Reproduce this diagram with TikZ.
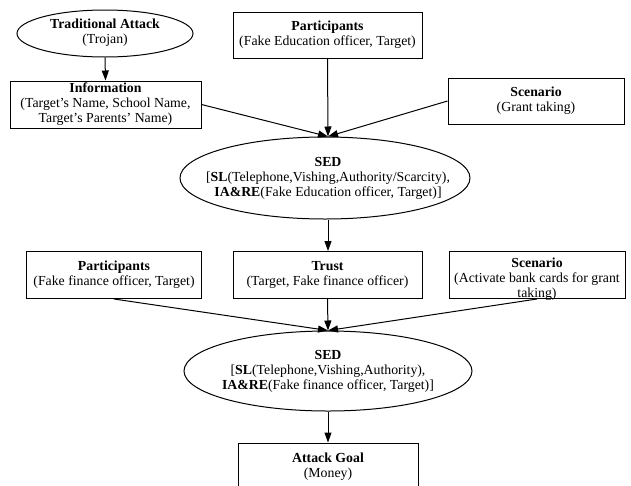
\documentclass[tikz,border=0pt]{standalone}
\usepackage{fontspec}
\setmainfont{Liberation Serif}
\usetikzlibrary{shapes.geometric,arrows.meta}

\tikzset{
  base/.style={draw=black, line width=1pt, align=center, inner sep=0pt,
    font=\fontsize{13.8}{15}\selectfont},
  box/.style={base, rectangle},
  oval/.style={draw=black, line width=1pt, ellipse, inner sep=0pt},
  txt/.style={align=center, inner sep=0pt, font=\fontsize{13.8}{15}\selectfont},
  link/.style={line width=1pt, -{Triangle[length=10pt,width=7pt]}}
}

\begin{document}
\begin{tikzpicture}[x=1pt,y=-1pt]
  \clip (0,0) rectangle (631,485);
  \fill[white] (0,0) rectangle (631,485);

  % first stage
  \node[oval, minimum width=176, minimum height=47] (ta) at (105,33.5) {};
  \node[txt] (tatext) at ([yshift=1]ta.center)
    {\textbf{Traditional Attack}\\(Trojan)};
  \node[box, minimum width=191, minimum height=47] (info) at (105.5,104.5)
    {\textbf{Information}\\(Target's Name, School Name,\\Target's Parents' Name)};
  \node[box, minimum width=189, minimum height=46] (p1) at (327.5,35)
    {\textbf{Participants}\\(Fake Education officer, Target)};
  \node[box, minimum width=176, minimum height=46] (s1) at (536,101)
    {\textbf{Scenario}\\(Grant taking)};
  \node[oval, minimum width=290, minimum height=82] (sed1) at (325,178) {};
  \node[txt] (sed1text) at ([xshift=3]sed1.center)
    {\textbf{SED}\\{}[\textbf{SL}(Telephone,Vishing,Authority/Scarcity),\\\textbf{IA\&RE}(Fake Education officer, Target)]};

  % second stage
  \node[box, minimum width=175, minimum height=47] (p2) at (114,275)
    {\textbf{Participants}\\(Fake finance officer, Target)};
  \node[box, minimum width=189, minimum height=47] (trust) at (327.5,275)
    {\textbf{Trust}\\(Target, Fake finance officer)};
  \node[box, minimum width=176, minimum height=47] (s2) at (537,275) {};
  \node[txt] (s2text) at ([yshift=-4]s2.center)
    {\textbf{Scenario}\\(Activate bank cards for grant\\taking)};
  \node[oval, minimum width=288, minimum height=80] (sed2) at (328,371) {};
  \node[txt] (sed2text) at (sed2.center)
    {\textbf{SED}\\{}[\textbf{SL}(Telephone,Vishing,Authority),\\\textbf{IA\&RE}(Fake finance officer, Target)]};
  \node[box, minimum width=180, minimum height=47] (goal) at (328,466.5)
    {\textbf{Attack Goal}\\(Money)};

  % connectors
  \draw[link] (ta.south) -- (info.north);
  \draw[link] (p1.south) -- ([xshift=3]sed1.north);
  \draw[link] (info.east) -- ([xshift=3]sed1.north);
  \draw[link] (s1.west) -- ([xshift=3]sed1.north);
  \draw[link] ([xshift=3]sed1.south) -- ([xshift=3]sed1.south |- trust.north);
  \draw[link] (p2.south) -- (sed2.north);
  \draw[link] (trust.south) -- (sed2.north);
  \draw[link] (s2.south) -- (sed2.north);
  \draw[link] (sed2.south) -- (goal.north);
\end{tikzpicture}
\end{document}
